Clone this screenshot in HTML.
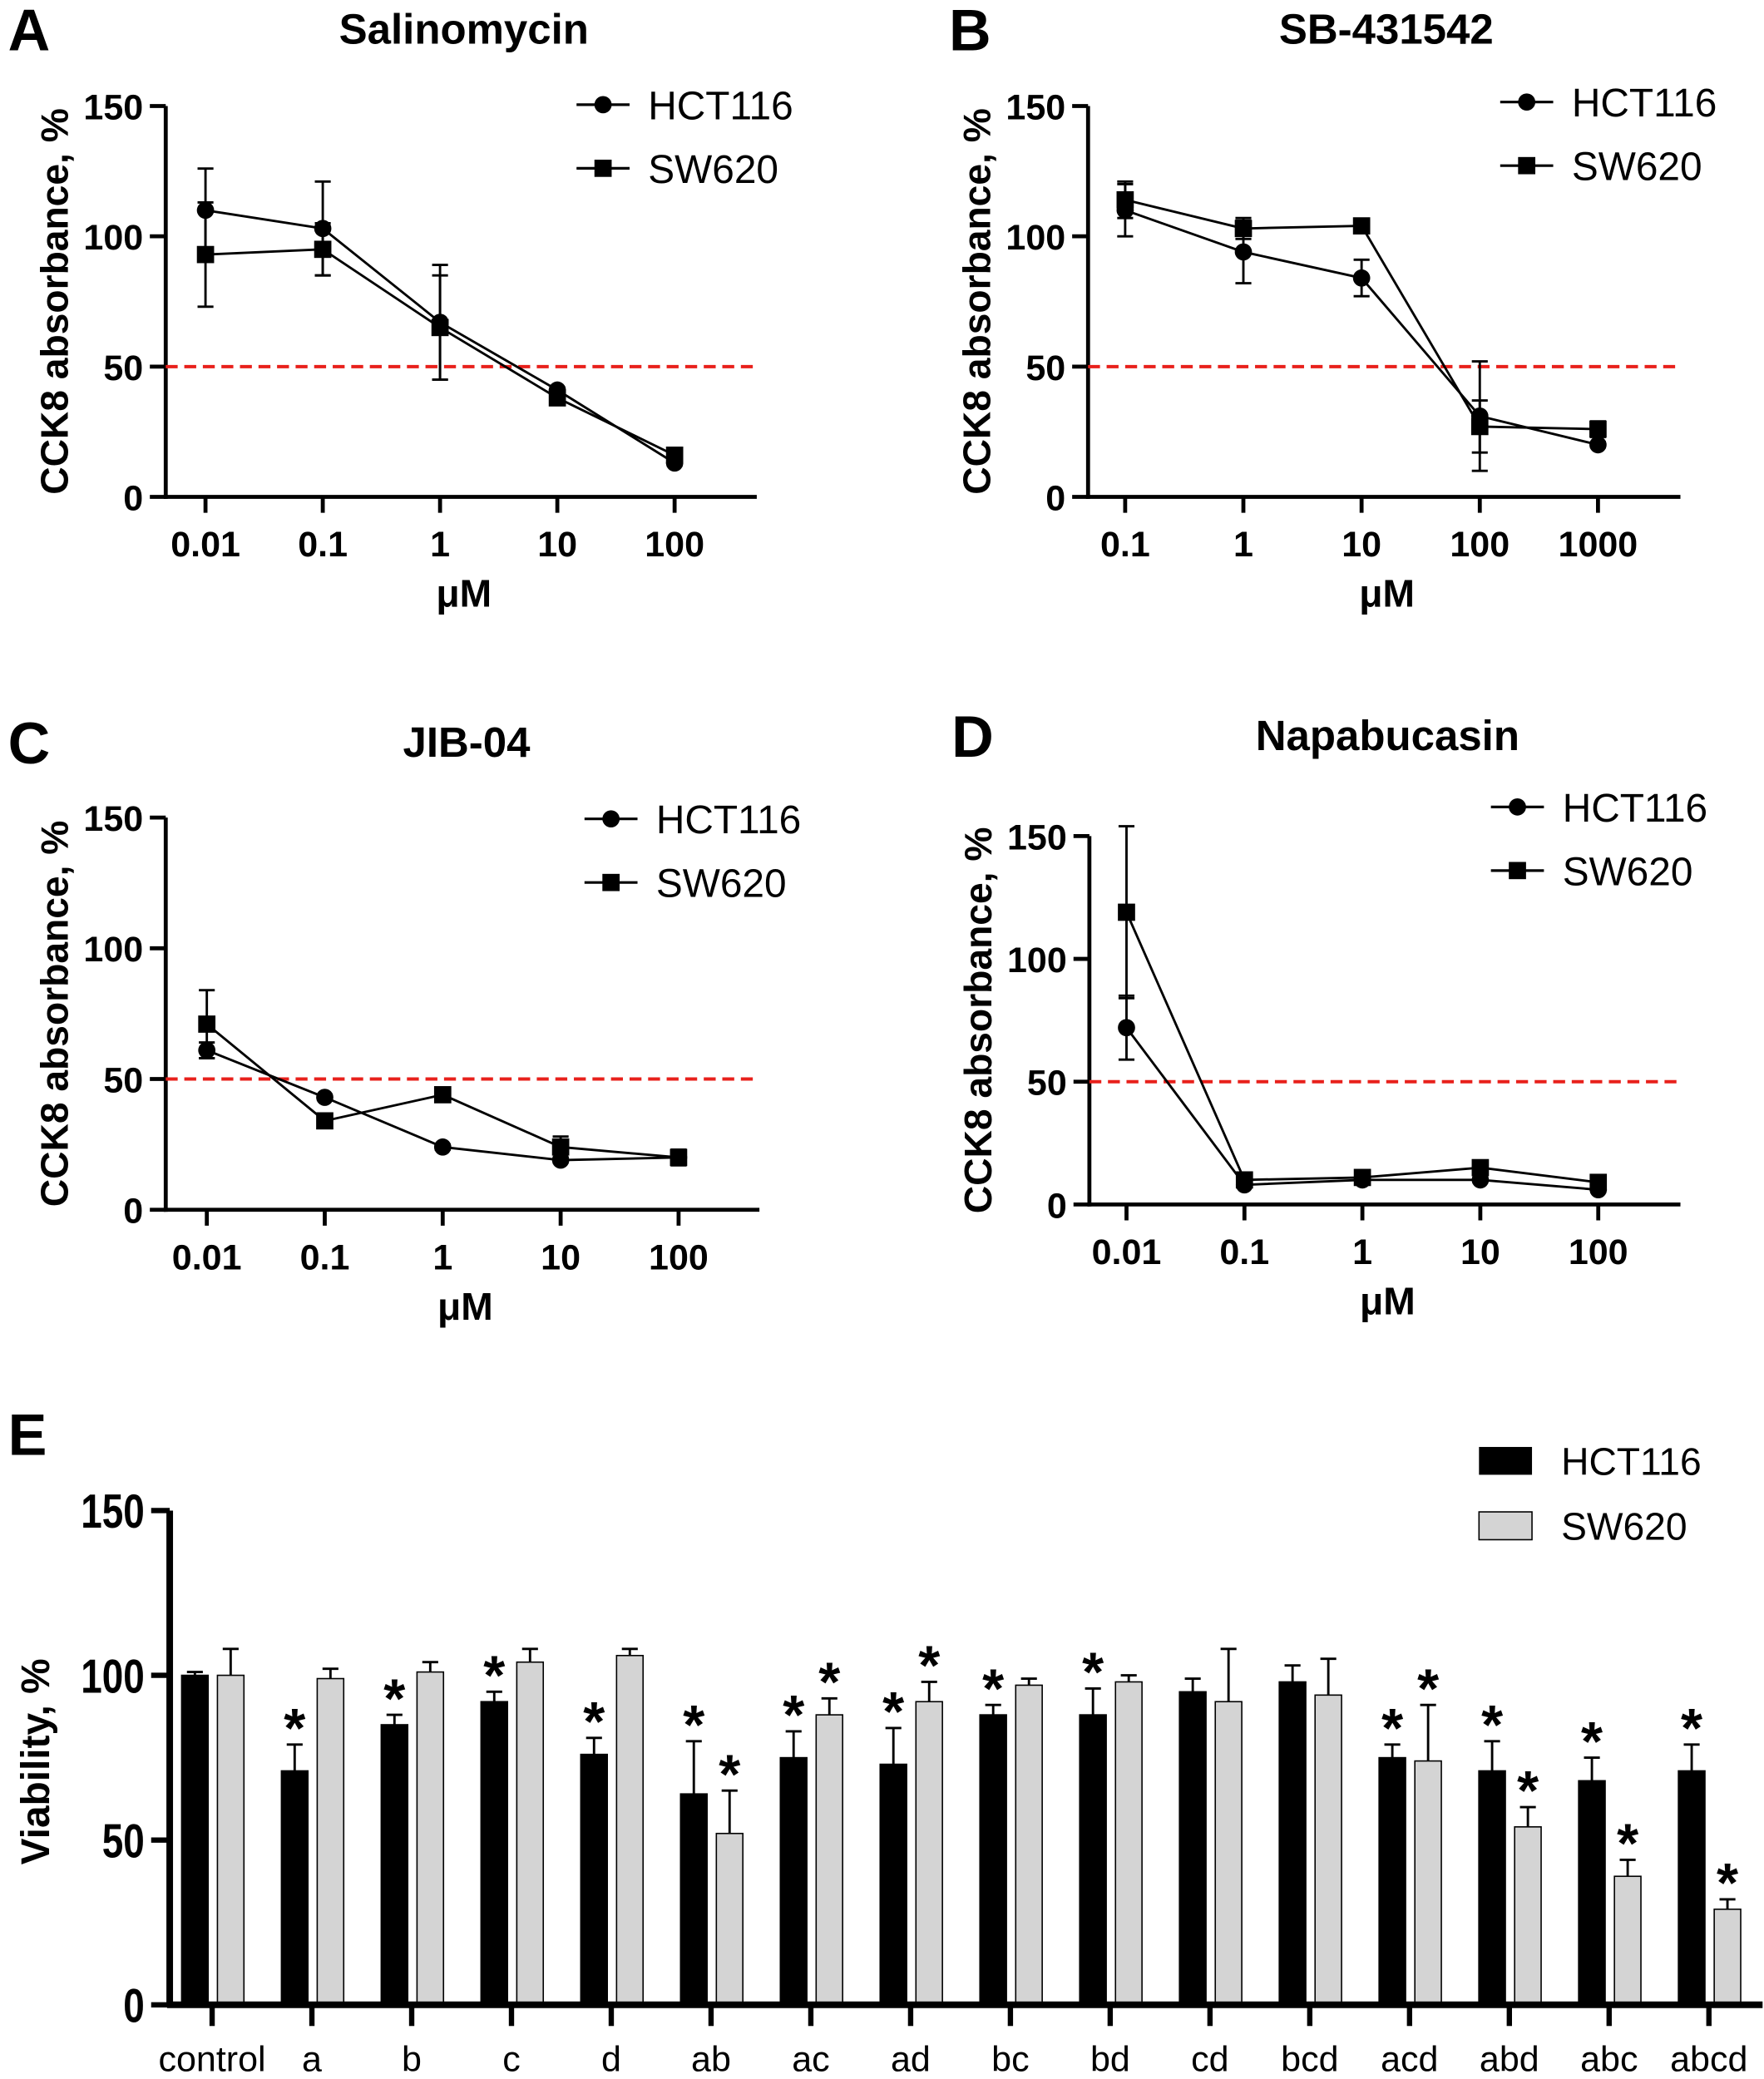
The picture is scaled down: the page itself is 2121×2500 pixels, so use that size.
<!DOCTYPE html>
<html><head><meta charset="utf-8"><style>
html,body{margin:0;padding:0;background:#fff}
svg{display:block}
text{font-family:"Liberation Sans",sans-serif;fill:#000}
.b{font-weight:bold}
</style></head><body>
<svg id="fig" width="2121" height="2500" viewBox="0 0 1331 1569" xmlns="http://www.w3.org/2000/svg"></svg>
<script>
// Panel A data
const aTicks=["0.01","0.1","1","10","100"];
const aHct=[110,103,67,41,13];const aHctErr=[16,18,22,1,1];
const aSw=[93,95,65,38,16];const aSwErr=[20,10,20,1,1];
// Panel B data
const bTicks=["0.1","1","10","100","1000"];
const bHct=[110,94,84,31,20];const bHctErr=[10,12,7,21,1];
const bSw=[114,103,104,27,26];const bSwErr=[7,4,1,10,3];
// Panel C data
const cTicks=["0.01","0.1","1","10","100"];
const cHct=[61,43,24,19,20];const cHctErr=[3,1,1,1,1];
const cSw=[71,34,44,24,20];const cSwErr=[13,1,1,4,3];
// Panel D data
const dTicks=["0.01","0.1","1","10","100"];
const dHct=[72,8,10,10,6];const dHctErr=[13,1,1,1,1];
const dSw=[119,10,11,15,9];const dSwErr=[35,1,1,1,1];
const yTicksLine=[0,50,100,150];
// Panel E data
const eCats=["control","a","b","c","d","ab","ac","ad","bc","bd","cd","bcd","acd","abd","abc","abcd"];
const eHct=[100,71,85,92,76,64,75,73,88,88,95,98,75,71,68,71];
const eHctErr=[1,8,3,3,5,16,8,11,3,8,4,5,4,9,7,8];
const eSw=[100,99,101,104,106,52,88,92,97,98,92,94,74,54,39,29];
const eSwErr=[8,3,3,4,2,13,5,6,2,2,16,11,17,6,5,3];
const eHctStar=[0,1,1,1,1,1,1,1,1,1,0,0,1,1,1,1];
const eSwStar=[0,0,0,0,0,1,1,1,0,0,0,0,1,1,1,1];
const eYTicks=[0,50,100,150];

const NS="http://www.w3.org/2000/svg";
const svg=document.getElementById('fig');
function el(tag,attrs,parent,txt){const e=document.createElementNS(NS,tag);for(const k in attrs)e.setAttribute(k,attrs[k]);if(txt!==undefined)e.textContent=txt;(parent||svg).appendChild(e);return e;}

function linePanel(o){
  const g=el('g',{});
  
  
  const y=v=>o.y0-(v/150)*(o.y0-o.y150);
  const x=i=>o.x0+i*o.dx;
  const t=el('text',{x:o.letterX,y:o.titleY+16,'font-size':44,class:'b'},g,o.letter);
  
  const ti=el('text',{x:o.titleX,y:o.titleY+11,'font-size':32,class:'b','text-anchor':'middle'},g,o.title);
  
  const ya=el('line',{x1:o.ax,y1:y(150),x2:o.ax,y2:o.y0+1.5,stroke:'#000','stroke-width':3},g);
  
  const xa=el('line',{x1:o.ax-1.5,y1:o.y0,x2:o.axEnd,y2:o.y0,stroke:'#000','stroke-width':3},g);
  
  yTicksLine.forEach(v=>{
    el('line',{x1:o.ax-12,y1:y(v),x2:o.ax,y2:y(v),stroke:'#000','stroke-width':3},g);
    const l=el('text',{x:o.ax-17,y:y(v)+10,'font-size':27,class:'b','text-anchor':'end'},g,String(v));
    
  });
  o.ticks.forEach((s,i)=>{
    el('line',{x1:x(i),y1:o.y0,x2:x(i),y2:o.y0+12,stroke:'#000','stroke-width':3},g);
    const l=el('text',{x:x(i),y:o.y0+45,'font-size':27,class:'b','text-anchor':'middle'},g,s);
    
  });
  const xl=el('text',{x:(o.ax+o.axEnd)/2+2,y:o.y0+83,'font-size':29,class:'b','text-anchor':'middle'},g,'μM');
  
  const cy=(y(150)+o.y0)/2;
  const yl=el('text',{x:0,y:0,'font-size':29,class:'b','text-anchor':'middle',transform:`translate(${o.ax-74},${cy}) rotate(-90)`},g,'CCK8 absorbance, %');
  
  const rl=el('line',{x1:o.ax,y1:y(50),x2:o.axEnd,y2:y(50),stroke:'#e8201b','stroke-width':2.5,'stroke-dasharray':'9,5'},g);
  
  [[o.hct,o.hctErr,'circle','hct116-series'],[o.sw,o.swErr,'square','sw620-series']].forEach(([vals,errs,mk,nm])=>{
    const sg=el('g',{},g);
    el('polyline',{points:vals.map((v,i)=>x(i)+','+y(v)).join(' '),fill:'none',stroke:'#000','stroke-width':1.8},sg);
    vals.forEach((v,i)=>{
      const e=errs[i];
      el('line',{x1:x(i),y1:y(v+e),x2:x(i),y2:y(v-e),stroke:'#000','stroke-width':1.8},sg);
      el('line',{x1:x(i)-6,y1:y(v+e),x2:x(i)+6,y2:y(v+e),stroke:'#000','stroke-width':1.8},sg);
      el('line',{x1:x(i)-6,y1:y(v-e),x2:x(i)+6,y2:y(v-e),stroke:'#000','stroke-width':1.8},sg);
      if(mk==='circle')el('circle',{cx:x(i),cy:y(v),r:6.5,fill:'#000'},sg);
      else el('rect',{x:x(i)-6.5,y:y(v)-6.5,width:13,height:13,fill:'#000'},sg);
    });
  });
  const lg=el('g',{},g);
  [['HCT116','circle'],['SW620','square']].forEach(([n,mk],k)=>{
    const ly=o.legY+k*48;
    el('line',{x1:o.legX-20,y1:ly,x2:o.legX+20,y2:ly,stroke:'#000','stroke-width':2},lg);
    if(mk==='circle')el('circle',{cx:o.legX,cy:ly,r:6.5,fill:'#000'},lg);
    else el('rect',{x:o.legX-6.5,y:ly-6.5,width:13,height:13,fill:'#000'},lg);
    const lt=el('text',{x:o.legX+34,y:ly+11,'font-size':30},lg,n);
    
  });
}
linePanel({name:'panel-a',letter:'A',letterX:6,title:'Salinomycin',titleX:350,titleY:22,ax:125,axEnd:571,y0:375,y150:80,x0:155,dx:88.5,ticks:aTicks,hct:aHct,hctErr:aHctErr,sw:aSw,swErr:aSwErr,legX:455,legY:79});
linePanel({name:'panel-b',letter:'B',letterX:716,title:'SB-431542',titleX:1046,titleY:22,ax:821,axEnd:1268,y0:375,y150:80,x0:849,dx:89.2,ticks:bTicks,hct:bHct,hctErr:bHctErr,sw:bSw,swErr:bSwErr,legX:1152,legY:77});
linePanel({name:'panel-c',letter:'C',letterX:6,title:'JIB-04',titleX:352,titleY:560,ax:125,axEnd:573,y0:913,y150:617,x0:156,dx:89,ticks:cTicks,hct:cHct,hctErr:cHctErr,sw:cSw,swErr:cSwErr,legX:461,legY:618});
linePanel({name:'panel-d',letter:'D',letterX:718,title:'Napabucasin',titleX:1047,titleY:555,ax:822,axEnd:1268,y0:909,y150:631,x0:850,dx:89,ticks:dTicks,hct:dHct,hctErr:dHctErr,sw:dSw,swErr:dSwErr,legX:1145,legY:609});

// Panel E
(function(){
  const g=el('g',{});
  const y0=1513,y150=1140,ax=128,axEnd=1330;
  const y=v=>y0-(v/150)*(y0-y150);
  const cx=i=>160+i*75.3;
  const bw=20;
  const L=el('text',{x:6,y:1098,'font-size':44,class:'b'},g,'E');
  const yl=el('text',{x:0,y:0,'font-size':30,class:'b','text-anchor':'middle',transform:`translate(37,${(y0+y150)/2+3}) rotate(-90)`},g,'Viability, %');
  
  eYTicks.forEach(v=>{
    el('line',{x1:ax-14,y1:y(v),x2:ax,y2:y(v),stroke:'#000','stroke-width':4},g);
    const tx=ax-19;
    const t=el('text',{x:0,y:0,'font-size':36,class:'b','text-anchor':'end',transform:`translate(${tx},${y(v)+13}) scale(0.8,1)`},g,String(v));
    
  });
  eCats.forEach((c,i)=>{
    const bx=cx(i);
    const hb=el('rect',{x:bx-bw-3,y:y(eHct[i]),width:bw,height:y0-y(eHct[i]),fill:'#000',stroke:'#000','stroke-width':1},g);
    
    const sb=el('rect',{x:bx+4,y:y(eSw[i]),width:bw,height:y0-y(eSw[i]),fill:'#d4d4d4',stroke:'#000','stroke-width':1},g);
    
    [[bx-bw/2-3,eHct[i],eHctErr[i],eHctStar[i]],[bx+bw/2+4,eSw[i],eSwErr[i],eSwStar[i]]].forEach(([px,v,e,s])=>{
      el('line',{x1:px,y1:y(v),x2:px,y2:y(v+e),stroke:'#000','stroke-width':1.8},g);
      el('line',{x1:px-6,y1:y(v+e),x2:px+6,y2:y(v+e),stroke:'#000','stroke-width':1.8},g);
      if(s){const st=el('text',{x:px,y:y(v+e)+2,'font-size':42,class:'b','text-anchor':'middle'},g,'*');
        }
    });
    el('line',{x1:bx,y1:y0,x2:bx,y2:y0+16,stroke:'#000','stroke-width':4},g);
    const lt=el('text',{x:bx,y:1563,'font-size':27,'text-anchor':'middle'},g,c);
    
  });
  const ya=el('line',{x1:ax,y1:y150,x2:ax,y2:y0+2,stroke:'#000','stroke-width':5},g);
  const xa=el('line',{x1:ax-2,y1:y0,x2:axEnd,y2:y0,stroke:'#000','stroke-width':5},g);
  const lg=el('g',{},g);
  el('rect',{x:1116,y:1092,width:40,height:21,fill:'#000'},lg);
  const t1=el('text',{x:1178,y:1113,'font-size':29},lg,'HCT116');
  el('rect',{x:1116,y:1141,width:40,height:21,fill:'#d4d4d4',stroke:'#000','stroke-width':1},lg);
  const t2=el('text',{x:1178,y:1162,'font-size':29},lg,'SW620');
})();
</script>
</body></html>
